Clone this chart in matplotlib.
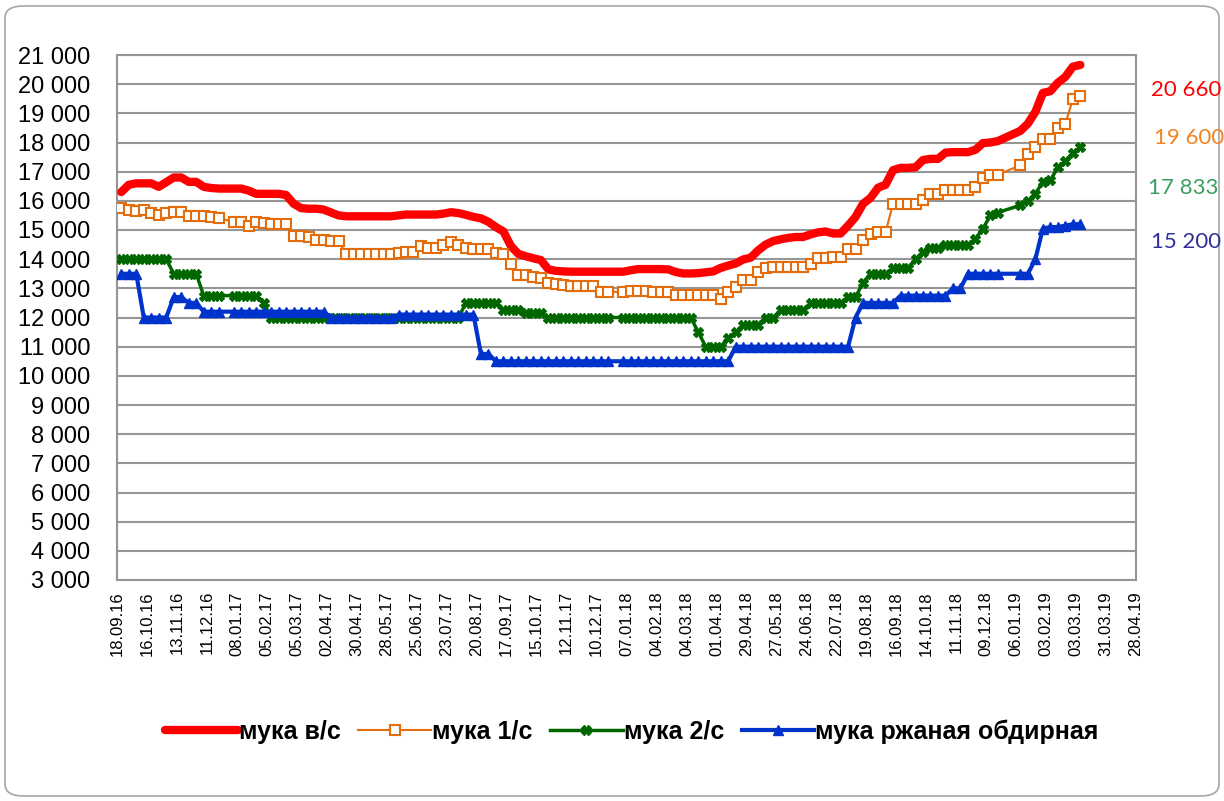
import matplotlib
matplotlib.use('Agg')
import matplotlib.pyplot as plt
import matplotlib.dates as mdates
from matplotlib.patches import FancyBboxPatch
from matplotlib.ticker import FuncFormatter
import pandas as pd

# weekly observations; the New Year weeks are missing in the source
week_dates = pd.date_range('2016-09-22', periods=129, freq='7D')
gap_dates = pd.to_datetime(['2016-12-29', '2017-12-28', '2018-12-27', '2019-01-03'])
dates = week_dates.drop(gap_dates)

# мука в/с
flour_top = [
    16300, 16550, 16600, 16600, 16600, 16480, 16640, 16800, 16800, 16650,
    16650, 16480, 16440, 16420, 16420, 16420, 16350, 16240, 16240,
    16240, 16240, 16200, 15900, 15750, 15730, 15730, 15700, 15600, 15500,
    15470, 15470, 15470, 15470, 15470, 15470, 15470, 15500, 15530, 15530,
    15530, 15530, 15530, 15560, 15610, 15580, 15520, 15450, 15400, 15280,
    15100, 14950, 14450, 14180, 14100, 14030, 13970, 13650, 13600, 13580,
    13570, 13570, 13570, 13570, 13570, 13570, 13570, 13620, 13660,
    13660, 13660, 13660, 13650, 13560, 13510, 13510, 13520, 13550, 13580,
    13700, 13780, 13850, 13990, 14050, 14300, 14500, 14620, 14680, 14730,
    14760, 14760, 14850, 14920, 14950, 14880, 14880, 15150, 15450, 15900,
    16100, 16450, 16550, 17050, 17130, 17130, 17150, 17400, 17440, 17440,
    17650, 17670, 17670, 17670, 17750, 17980, 18000, 18050,
    18400, 18650, 19050, 19700, 19760, 20050, 20250, 20600, 20660,
]

# мука 1/с
flour_first = [
    15760, 15700, 15650, 15690, 15600, 15520, 15600, 15620, 15620, 15490,
    15490, 15470, 15460, 15400, 15290, 15290, 15150, 15260, 15240,
    15220, 15220, 15220, 14800, 14780, 14750, 14650, 14650, 14620, 14620,
    14180, 14180, 14180, 14180, 14180, 14180, 14180, 14200, 14230, 14230,
    14450, 14370, 14370, 14500, 14600, 14480, 14400, 14350, 14350, 14350,
    14200, 14180, 13840, 13450, 13450, 13400, 13340, 13170, 13140, 13110,
    13090, 13090, 13090, 13090, 12880, 12880, 12880, 12920, 12920,
    12920, 12880, 12880, 12880, 12770, 12770, 12770, 12770, 12770, 12770,
    12630, 12860, 13030, 13290, 13290, 13570, 13690, 13740, 13740, 13740,
    13740, 13740, 13830, 14030, 14030, 14080, 14080, 14340, 14340, 14660,
    14850, 14930, 14920, 15900, 15900, 15900, 15900, 16040, 16250, 16250,
    16380, 16380, 16380, 16380, 16475, 16785, 16900, 16900,
    17220, 17620, 17850, 18125, 18125, 18500, 18650, 19475, 19600,
]

# мука 2/с
flour_second = [
    14000, 14000, 14000, 14000, 14000, 14000, 14000, 13500, 13500, 13500,
    13500, 12750, 12750, 12750, 12750, 12750, 12750, 12750, 12500,
    12000, 12000, 12000, 12000, 12000, 12000, 12000, 12000, 12000, 12000,
    12000, 12000, 12000, 12000, 12000, 12000, 12000, 12000, 12000, 12000,
    12000, 12000, 12000, 12000, 12000, 12000, 12500, 12500, 12500, 12500,
    12500, 12250, 12250, 12250, 12150, 12150, 12150, 12000, 12000, 12000,
    12000, 12000, 12000, 12000, 12000, 12000, 12000, 12000, 12000,
    12000, 12000, 12000, 12000, 12000, 12000, 12000, 11500, 11000, 11000,
    11000, 11300, 11500, 11750, 11750, 11750, 12000, 12000, 12250, 12250,
    12250, 12250, 12500, 12500, 12500, 12500, 12500, 12700, 12700, 13200,
    13500, 13500, 13500, 13700, 13700, 13700, 14000, 14250, 14400, 14400,
    14500, 14500, 14500, 14500, 14700, 15050, 15500, 15600,
    15850, 16000, 16250, 16650, 16700, 17150, 17350, 17650, 17833,
]

# мука ржаная обдирная
flour_rye = [
    13500, 13500, 13500, 12000, 12000, 12000, 12000, 12700, 12700, 12500,
    12500, 12200, 12200, 12200, 12200, 12200, 12200, 12200, 12200,
    12200, 12200, 12200, 12200, 12200, 12200, 12200, 12200, 12000, 12000,
    12000, 12000, 12000, 12000, 12000, 12000, 12000, 12100, 12100, 12100,
    12100, 12100, 12100, 12100, 12100, 12100, 12100, 12100, 10750, 10750,
    10500, 10500, 10500, 10500, 10500, 10500, 10500, 10500, 10500, 10500,
    10500, 10500, 10500, 10500, 10500, 10500, 10500, 10500, 10500,
    10500, 10500, 10500, 10500, 10500, 10500, 10500, 10500, 10500, 10500,
    10500, 10500, 11000, 11000, 11000, 11000, 11000, 11000, 11000, 11000,
    11000, 11000, 11000, 11000, 11000, 11000, 11000, 11000, 12000, 12500,
    12500, 12500, 12500, 12500, 12750, 12750, 12750, 12750, 12750, 12750,
    12750, 13000, 13000, 13500, 13500, 13500, 13500, 13500,
    13500, 13500, 14000, 15050, 15100, 15100, 15150, 15200, 15200,
]

last_labels = ['20 660', '19 600', '17 833', '15 200']
last_colors = ['#FF0000', '#F58220', '#3A9F62', '#30309A']
last_y = [90, 138, 188, 242]  # pixel rows of the end labels
last_x = [1151, 1154, 1148, 1151]

tick_dates = pd.date_range('2016-09-18', '2019-04-28', freq='28D')

W, H = 1224, 801
fig = plt.figure(figsize=(W / 100, H / 100), dpi=100)
fig.patches.append(FancyBboxPatch((5 / W, 5 / H), 1214 / W, 790 / H,
                                  boxstyle='round,pad=0,rounding_size=0.015',
                                  transform=fig.transFigure, fill=False,
                                  ec='#A6A6A6', lw=1.2))

ax = fig.add_axes([117 / W, 1 - 580 / H, (1136 - 117) / W, (580 - 55) / H])

ax.plot(dates, flour_top, color='#FF0000', lw=6, solid_capstyle='round',
        solid_joinstyle='round', label='мука в/с', zorder=3)
ax.plot(dates, flour_first, color='#E46C0A', lw=1.5, marker='s', ms=7,
        mfc='white', mec='#E46C0A', mew=1.5, label='мука 1/с', zorder=4)
ax.plot(dates, flour_second, color='#006600', lw=2.5, marker='X', ms=7,
        mec='#006600', label='мука 2/с', zorder=5)
ax.plot(dates, flour_rye, color='#0033CC', lw=3, marker='^', ms=7,
        label='мука ржаная обдирная', zorder=6)

ax.set_ylim(3000, 21000)
ax.set_yticks(range(3000, 21001, 1000))
ax.yaxis.set_major_formatter(FuncFormatter(lambda v, p: f'{int(v):,}'.replace(',', ' ')))
ax.set_xlim(pd.Timestamp('2016-09-18'), pd.Timestamp('2019-04-28'))
ax.set_xticks(tick_dates)
ax.xaxis.set_major_formatter(mdates.DateFormatter('%d.%m.%y'))

ax.yaxis.grid(True, color='#969696', lw=1.5)
ax.set_axisbelow(True)
for s in ax.spines.values():
    s.set_color('#969696')
    s.set_linewidth(1.5)

ax.tick_params(axis='y', length=0, pad=19, labelsize=17,
               labelfontfamily='Liberation Sans')
ax.tick_params(axis='x', length=0, pad=8, labelsize=12, labelrotation=90,
               labelfontfamily='Liberation Sans')

for txt, col, xp, yp in zip(last_labels, last_colors, last_x, last_y):
    fig.text(xp / W, 1 - yp / H, txt, color=col, fontsize=16,
             va='center', ha='left', family='Lato')

fig.legend(loc='center', bbox_to_anchor=(632 / W, 1 - 732 / H), ncol=4,
           frameon=False, handlelength=2.9, handletextpad=0.05,
           columnspacing=0.7,
           prop={'family': ['Liberation Sans Narrow', 'Liberation Sans'],
                 'weight': 'bold', 'size': 18})

fig.savefig('out.png', dpi=100)
